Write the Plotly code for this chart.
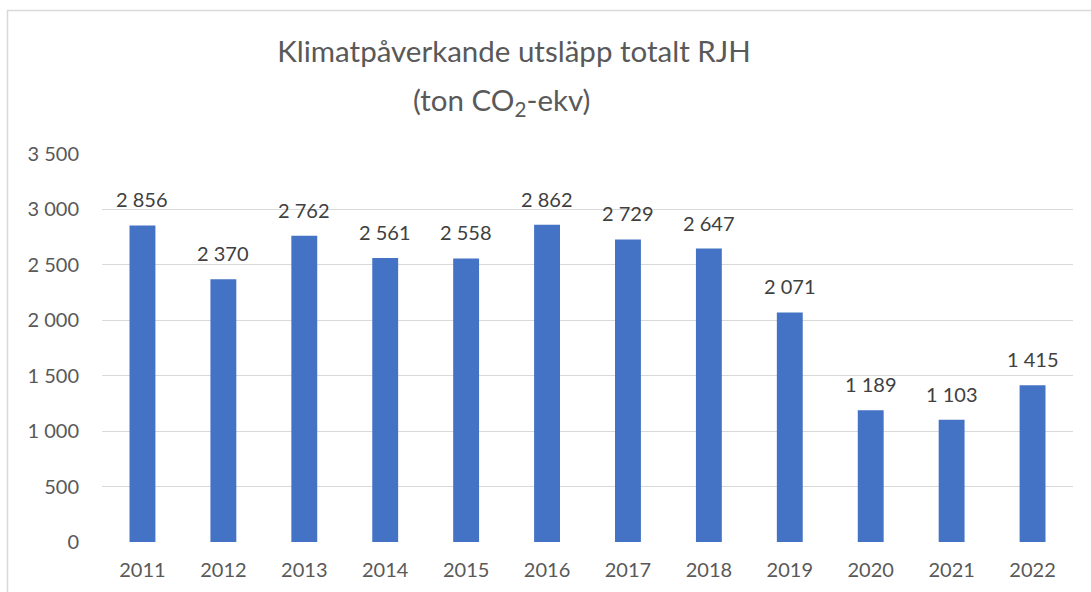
import plotly.graph_objects as go

years = ["2011", "2012", "2013", "2014", "2015", "2016", "2017", "2018", "2019", "2020", "2021", "2022"]
emissions = [2856, 2370, 2762, 2561, 2558, 2862, 2729, 2647, 2071, 1189, 1103, 1415]
y_ticks = [0, 500, 1000, 1500, 2000, 2500, 3000, 3500]

FONT = "Lato, 'Open Sans', sans-serif"
GREY = "#595959"

W, H = 1091, 592
L, R, T, B = 102, 18, 154, 50
pw = W - L - R
ph = H - T - B

fig = go.Figure(
    go.Bar(
        x=years,
        y=emissions,
        marker=dict(color="#4472C4", line=dict(width=0)),
        width=0.32,
        hoverinfo="skip",
    )
)

# data labels above bars (category index positions)
for i, v in enumerate(emissions):
    fig.add_annotation(
        x=i, y=v, xref="x", yref="y",
        text=f"{v:,}".replace(",", " "),
        showarrow=False, yanchor="middle", xanchor="center", yshift=26,
        font=dict(family=FONT, size=20, color="#404040"),
    )

# chart border (left and top visible)
fig.add_shape(
    type="rect", xref="paper", yref="paper",
    x0=(7.5 - L) / pw, x1=(W + 20 - L) / pw,
    y0=-(B + 20) / ph, y1=1 + (T - 10.5) / ph,
    line=dict(color="#D9D9D9", width=1.5), fillcolor="rgba(0,0,0,0)", layer="below",
)

# second title line
fig.add_annotation(
    xref="paper", yref="paper",
    x=(501 - L) / pw, y=1 + (T - 101) / ph,
    text="(ton CO<sub>2</sub>-ekv)", showarrow=False,
    xanchor="center", yanchor="middle",
    font=dict(family=FONT, size=29.5, color=GREY),
)

fig.update_layout(
    width=W, height=H,
    margin=dict(l=L, r=R, t=T, b=B, autoexpand=False),
    paper_bgcolor="white", plot_bgcolor="white",
    separators=", ",
    showlegend=False,
    bargap=0.68,
    title=dict(
        text="Klimatpåverkande utsläpp totalt RJH",
        x=514 / W, xref="container", xanchor="center",
        y=1 - 52 / H, yref="container", yanchor="middle",
        font=dict(family=FONT, size=29.5, color=GREY),
    ),
    xaxis=dict(
        type="category",
        range=[-0.5, len(years) - 0.5],
        showgrid=False, showline=False, zeroline=False,
        tickfont=dict(family=FONT, size=20, color=GREY),
        ticks="", ticklabelstandoff=14,
    ),
    yaxis=dict(
        range=[0, 3500], tickvals=y_ticks, tickformat=",",
        showgrid=True, gridcolor="#D9D9D9", gridwidth=1.3,
        zeroline=False, showline=False,
        tickfont=dict(family=FONT, size=20, color=GREY),
        ticks="", ticklabelstandoff=22,
    ),
)

fig.write_html(
    "out.html",
    config={"displayModeBar": False},
    post_script="document.body.style.margin='0px';document.body.style.overflow='hidden';",
)
